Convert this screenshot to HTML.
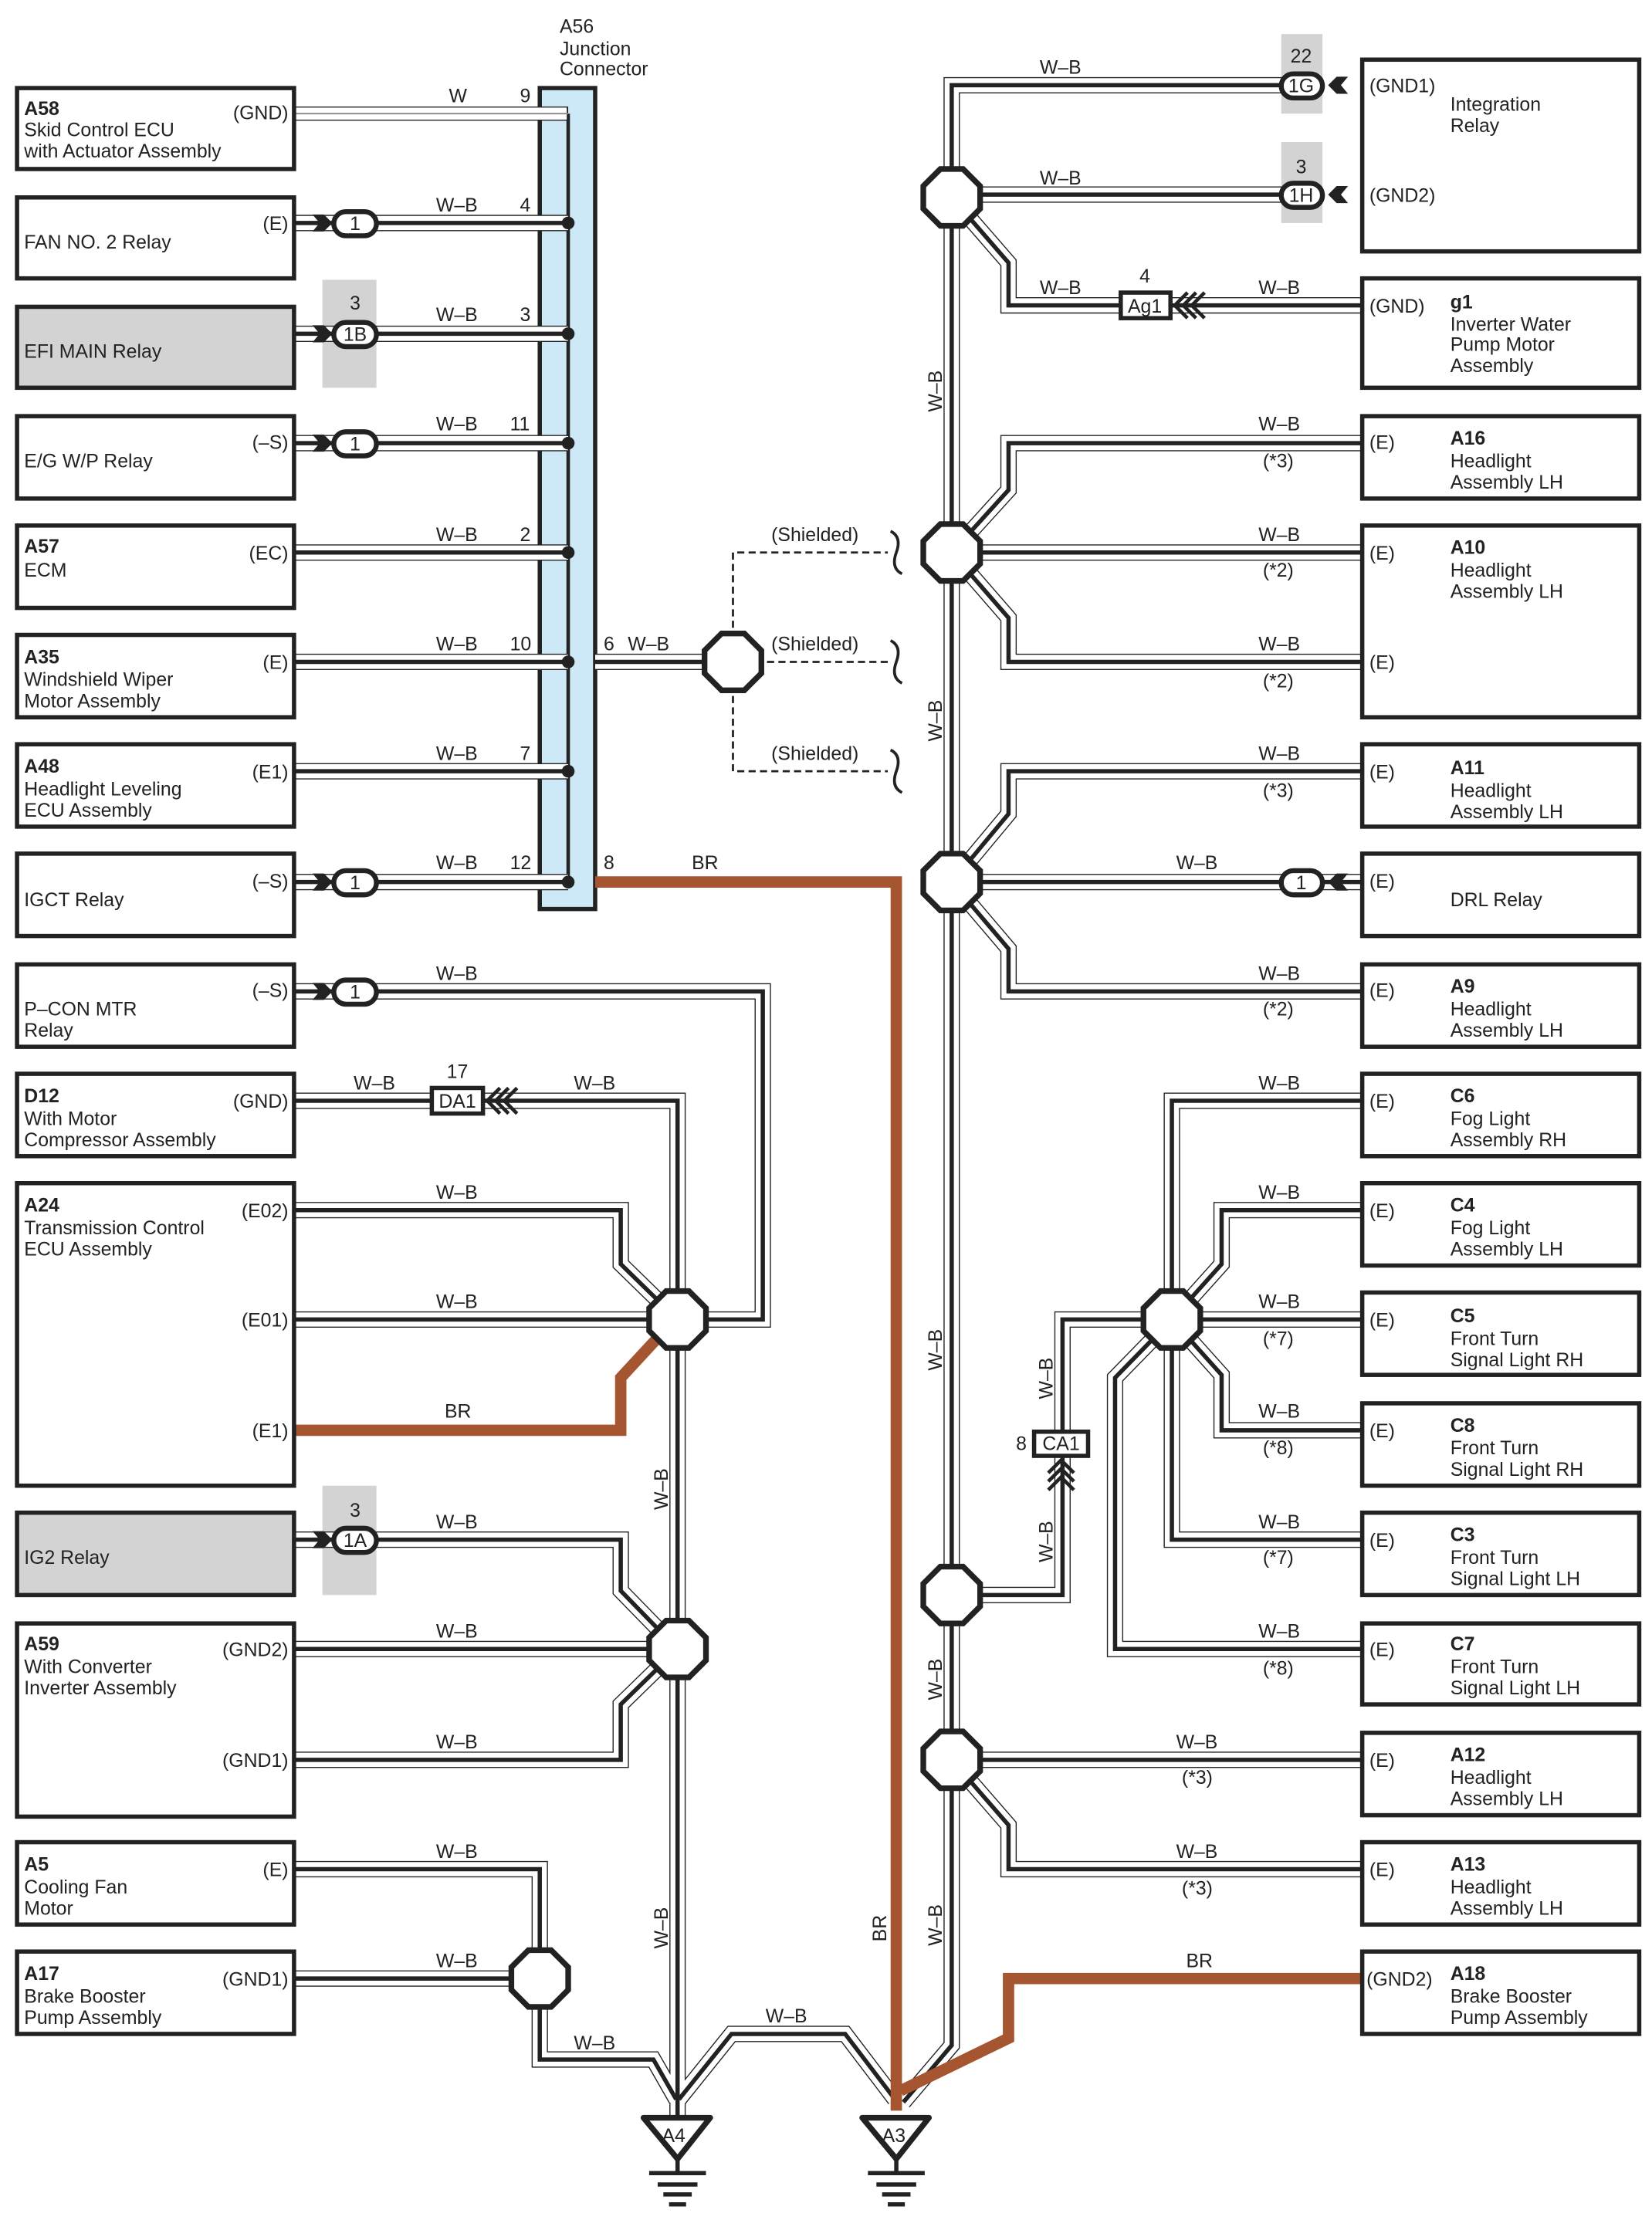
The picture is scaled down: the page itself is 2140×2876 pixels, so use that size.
<!DOCTYPE html>
<html><head><meta charset="utf-8"><style>
html,body{margin:0;padding:0;background:#fff}
svg{display:block}
text{font-family:"Liberation Sans",sans-serif;font-size:13.5px;fill:#222}
.b{font-weight:bold}
.box{fill:#fff;stroke:#222;stroke-width:3}
.oct{fill:#fff;stroke:#222;stroke-width:4}
</style></head><body>
<svg width="2140" height="2876" viewBox="0 0 1163 1563" preserveAspectRatio="none" xmlns="http://www.w3.org/2000/svg">
<defs>
<g id="wires" fill="none" stroke-linejoin="miter">
<path d="M207,157H400M207,235H400M207,312H400M207,389H400M207,466H400M207,543H400M207,621H400M419,466H516"/>
<path d="M905,60H670V1440L636,1480"/>
<path d="M670,137H905"/>
<path d="M670,139L710,185V215H959"/>
<path d="M670,389L710,345V312H959M670,389H959M670,389L710,435V466H959"/>
<path d="M670,621L710,573V543H959M670,621H959M670,621L710,668V698H959"/>
<path d="M825,929V775H959M825,929L860,890V852H959M825,929H959M825,929L860,968V1007H959M825,929V1084H959M825,929L785,970V1161H959"/>
<path d="M670,1123H748V929H825"/>
<path d="M670,1239H959M670,1239L710,1285V1316H959"/>
<path d="M207,698H537V929H477M207,775H477V929M207,852H437V890L477,929M207,929H477"/>
<path d="M207,1084H437V1120L477,1161M207,1161H477M207,1239H437V1200L477,1161M477,929V1490"/>
<path d="M207,1316H380V1393M207,1393H380V1450H460L476,1478"/>
<path d="M478,1478L515,1432H595L630,1478"/>
</g>
</defs>
<rect width="1163" height="1563" fill="#fff"/>
<!-- gray backgrounds -->
<rect x="227" y="197" width="38" height="76" fill="#d3d3d3"/>
<rect x="227" y="1046" width="38" height="77" fill="#d3d3d3"/>
<rect x="902" y="24" width="29" height="56" fill="#d3d3d3"/>
<rect x="902" y="100" width="29" height="57" fill="#d3d3d3"/>
<!-- junction connector -->
<rect x="380" y="62" width="39" height="578" fill="#cde9f7" stroke="#222" stroke-width="3"/>
<path d="M400,80V621" stroke="#222" stroke-width="2.5"/>
<!-- W wire -->
<path d="M207,80H400" stroke="#222" stroke-width="10" fill="none"/>
<path d="M207,80H399" stroke="#fff" stroke-width="8.5" fill="none"/>
<path d="M207,80H400" stroke="#888" stroke-width="1" fill="none"/>
<!-- double wires -->
<use href="#wires" stroke="#222" stroke-width="11.5"/>
<use href="#wires" stroke="#fff" stroke-width="10"/>
<use href="#wires" stroke="#222" stroke-width="3"/>
<!-- BR wires -->
<g fill="none" stroke="#a55530" stroke-width="8">
<path d="M419,621H631V1486"/>
<path d="M207,1007H437V970L462,943"/>
<path d="M959,1393H710V1435L634,1472"/>
</g>
<!-- dots on connector -->
<g fill="#222"><circle cx="400" cy="157" r="4.5"/><circle cx="400" cy="235" r="4.5"/><circle cx="400" cy="312" r="4.5"/><circle cx="400" cy="389" r="4.5"/><circle cx="400" cy="466" r="4.5"/><circle cx="400" cy="543" r="4.5"/><circle cx="400" cy="621" r="4.5"/></g>
<!-- shielded -->
<g fill="none" stroke="#222" stroke-width="1.5" stroke-dasharray="5,3">
<path d="M516,466V389H625M516,466H625M516,466V543H625"/>
</g>
<g fill="none" stroke="#222" stroke-width="2">
<path d="M627,374q8,4 4,15q-4,11 4,15M627,451q8,4 4,15q-4,11 4,15M627,528q8,4 4,15q-4,11 4,15"/>
</g>
<!-- octagons -->
<g class="oct">
<polygon points="662,119 678,119 690,131 690,147 678,159 662,159 650,147 650,131"/>
<polygon points="662,369 678,369 690,381 690,397 678,409 662,409 650,397 650,381"/>
<polygon points="662,601 678,601 690,613 690,629 678,641 662,641 650,629 650,613"/>
<polygon points="662,1103 678,1103 690,1115 690,1131 678,1143 662,1143 650,1131 650,1115"/>
<polygon points="662,1219 678,1219 690,1231 690,1247 678,1259 662,1259 650,1247 650,1231"/>
<polygon points="817,909 833,909 845,921 845,937 833,949 817,949 805,937 805,921"/>
<polygon points="469,909 485,909 497,921 497,937 485,949 469,949 457,937 457,921"/>
<polygon points="469,1141 485,1141 497,1153 497,1169 485,1181 469,1181 457,1169 457,1153"/>
<polygon points="372,1373 388,1373 400,1385 400,1401 388,1413 372,1413 360,1401 360,1385"/>
<polygon points="508,446 524,446 536,458 536,474 524,486 508,486 496,474 496,458"/>
</g>
<!-- pill connectors -->
<g fill="#fff" stroke="#222" stroke-width="3.5">
<rect x="235" y="149" width="30" height="17" rx="8.5"/>
<rect x="235" y="227" width="30" height="17" rx="8.5"/>
<rect x="235" y="304" width="30" height="17" rx="8.5"/>
<rect x="235" y="613" width="30" height="17" rx="8.5"/>
<rect x="235" y="690" width="30" height="17" rx="8.5"/>
<rect x="235" y="1076" width="30" height="17" rx="8.5"/>
<rect x="902" y="52" width="29" height="17" rx="8.5"/>
<rect x="902" y="129" width="29" height="17" rx="8.5"/>
<rect x="902" y="613" width="29" height="17" rx="8.5"/>
</g>
<g fill="#222">
<path d="M220,151l8,0l6,6l-6,6l-8,0l5,-6z"/>
<path d="M220,229l8,0l6,6l-6,6l-8,0l5,-6z"/>
<path d="M220,306l8,0l6,6l-6,6l-8,0l5,-6z"/>
<path d="M220,615l8,0l6,6l-6,6l-8,0l5,-6z"/>
<path d="M220,692l8,0l6,6l-6,6l-8,0l5,-6z"/>
<path d="M220,1078l8,0l6,6l-6,6l-8,0l5,-6z"/>
<path d="M949,54l-8,0l-6,6l6,6l8,0l-5,-6z"/>
<path d="M949,131l-8,0l-6,6l6,6l8,0l-5,-6z"/>
<path d="M949,615l-8,0l-6,6l6,6l8,0l-5,-6z"/>
</g>
<!-- rect connectors -->
<g fill="#fff" stroke="#222" stroke-width="3">
<rect x="789" y="206" width="35" height="18"/>
<rect x="304" y="766" width="36" height="18"/>
<rect x="728" y="1008" width="38" height="17"/>
</g>
<g fill="none" stroke="#222" stroke-width="2.5">
<path d="M836,206l-9,9l9,9M842,206l-9,9l9,9M848,206l-9,9l9,9"/>
<path d="M352,766l-9,9l9,9M358,766l-9,9l9,9M364,766l-9,9l9,9"/>
<path d="M738,1037l9,-9l9,9M738,1043l9,-9l9,9M738,1049l9,-9l9,9"/>
</g>
<!-- grounds -->
<g fill="#fff" stroke="#222" stroke-width="4" stroke-linejoin="round">
<polygon points="453,1491 500,1491 477,1520"/>
<polygon points="607,1491 654,1491 631,1520"/>
</g>
<g stroke="#222" stroke-width="3">
<path d="M477,1520V1530M457,1530H497M463,1538H491M467,1545H487M471,1552H483"/>
<path d="M631,1520V1530M611,1530H651M617,1538H645M621,1545H641M625,1552H637"/>
</g>
<text x="466" y="1508">A4</text><text x="621" y="1508">A3</text>
<!-- boxes left -->
<g class="box">
<rect x="12" y="62" width="195" height="57"/>
<rect x="12" y="139" width="195" height="57"/>
<rect x="12" y="216" width="195" height="57" style="fill:#d3d3d3"/>
<rect x="12" y="293" width="195" height="58"/>
<rect x="12" y="370" width="195" height="58"/>
<rect x="12" y="447" width="195" height="58"/>
<rect x="12" y="524" width="195" height="58"/>
<rect x="12" y="601" width="195" height="58"/>
<rect x="12" y="679" width="195" height="58"/>
<rect x="12" y="756" width="195" height="58"/>
<rect x="12" y="833" width="195" height="213"/>
<rect x="12" y="1065" width="195" height="58" style="fill:#d3d3d3"/>
<rect x="12" y="1143" width="195" height="136"/>
<rect x="12" y="1297" width="195" height="58"/>
<rect x="12" y="1374" width="195" height="58"/>
<!-- right -->
<rect x="959" y="42" width="195" height="135"/>
<rect x="959" y="196" width="195" height="77"/>
<rect x="959" y="293" width="195" height="58"/>
<rect x="959" y="370" width="195" height="135"/>
<rect x="959" y="524" width="195" height="58"/>
<rect x="959" y="601" width="195" height="58"/>
<rect x="959" y="679" width="195" height="58"/>
<rect x="959" y="756" width="195" height="58"/>
<rect x="959" y="833" width="195" height="58"/>
<rect x="959" y="910" width="195" height="58"/>
<rect x="959" y="988" width="195" height="58"/>
<rect x="959" y="1065" width="195" height="58"/>
<rect x="959" y="1143" width="195" height="57"/>
<rect x="959" y="1220" width="195" height="58"/>
<rect x="959" y="1297" width="195" height="58"/>
<rect x="959" y="1374" width="195" height="58"/>
</g>
<!-- left box texts -->
<text x="17" y="81" class="b">A58</text><text x="17" y="96">Skid Control ECU</text><text x="17" y="111">with Actuator Assembly</text><text x="203" y="84" text-anchor="end">(GND)</text>
<text x="17" y="175">FAN NO. 2 Relay</text><text x="203" y="162" text-anchor="end">(E)</text>
<text x="17" y="252">EFI MAIN Relay</text>
<text x="17" y="329">E/G W/P Relay</text><text x="203" y="316" text-anchor="end">(–S)</text>
<text x="17" y="389" class="b">A57</text><text x="17" y="406">ECM</text><text x="203" y="394" text-anchor="end">(EC)</text>
<text x="17" y="467" class="b">A35</text><text x="17" y="483">Windshield Wiper</text><text x="17" y="498">Motor Assembly</text><text x="203" y="471" text-anchor="end">(E)</text>
<text x="17" y="544" class="b">A48</text><text x="17" y="560">Headlight Leveling</text><text x="17" y="575">ECU Assembly</text><text x="203" y="548" text-anchor="end">(E1)</text>
<text x="17" y="638">IGCT Relay</text><text x="203" y="625" text-anchor="end">(–S)</text>
<text x="17" y="715">P–CON MTR</text><text x="17" y="730">Relay</text><text x="203" y="702" text-anchor="end">(–S)</text>
<text x="17" y="776" class="b">D12</text><text x="17" y="792">With Motor</text><text x="17" y="807">Compressor Assembly</text><text x="203" y="780" text-anchor="end">(GND)</text>
<text x="17" y="853" class="b">A24</text><text x="17" y="869">Transmission Control</text><text x="17" y="884">ECU Assembly</text><text x="203" y="857" text-anchor="end">(E02)</text><text x="203" y="934" text-anchor="end">(E01)</text><text x="203" y="1012" text-anchor="end">(E1)</text>
<text x="17" y="1101">IG2 Relay</text>
<text x="17" y="1162" class="b">A59</text><text x="17" y="1178">With Converter</text><text x="17" y="1193">Inverter Assembly</text><text x="203" y="1166" text-anchor="end">(GND2)</text><text x="203" y="1244" text-anchor="end">(GND1)</text>
<text x="17" y="1317" class="b">A5</text><text x="17" y="1333">Cooling Fan</text><text x="17" y="1348">Motor</text><text x="203" y="1321" text-anchor="end">(E)</text>
<text x="17" y="1394" class="b">A17</text><text x="17" y="1410">Brake Booster</text><text x="17" y="1425">Pump Assembly</text><text x="203" y="1398" text-anchor="end">(GND1)</text>
<!-- connector texts -->
<text x="250" y="162" text-anchor="middle">1</text><text x="250" y="240" text-anchor="middle">1B</text><text x="250" y="218" text-anchor="middle">3</text>
<text x="250" y="317" text-anchor="middle">1</text><text x="250" y="626" text-anchor="middle">1</text><text x="250" y="703" text-anchor="middle">1</text>
<text x="250" y="1089" text-anchor="middle">1A</text><text x="250" y="1068" text-anchor="middle">3</text>
<text x="916" y="65" text-anchor="middle">1G</text><text x="916" y="44" text-anchor="middle">22</text>
<text x="916" y="142" text-anchor="middle">1H</text><text x="916" y="122" text-anchor="middle">3</text>
<text x="916" y="626" text-anchor="middle">1</text>
<text x="806" y="220" text-anchor="middle">Ag1</text><text x="806" y="199" text-anchor="middle">4</text>
<text x="322" y="780" text-anchor="middle">DA1</text><text x="322" y="759" text-anchor="middle">17</text>
<text x="747" y="1021" text-anchor="middle">CA1</text><text x="719" y="1021" text-anchor="middle">8</text>
<text x="394" y="23">A56</text><text x="394" y="39">Junction</text><text x="394" y="53">Connector</text>
<!-- left wire labels -->
<text x="316" y="72">W</text><text x="366" y="72">9</text>
<g>
<text x="307" y="149">W–B</text><text x="366" y="149">4</text>
<text x="307" y="226">W–B</text><text x="366" y="226">3</text>
<text x="307" y="303">W–B</text><text x="359" y="303">11</text>
<text x="307" y="381">W–B</text><text x="366" y="381">2</text>
<text x="307" y="458">W–B</text><text x="359" y="458">10</text>
<text x="307" y="535">W–B</text><text x="366" y="535">7</text>
<text x="307" y="612">W–B</text><text x="359" y="612">12</text>
<text x="425" y="458">6</text><text x="442" y="458">W–B</text>
<text x="425" y="612">8</text><text x="487" y="612">BR</text>
<text x="307" y="690">W–B</text>
<text x="249" y="767">W–B</text><text x="404" y="767">W–B</text>
<text x="307" y="844">W–B</text><text x="307" y="921">W–B</text><text x="313" y="998">BR</text>
<text x="307" y="1076">W–B</text><text x="307" y="1153">W–B</text><text x="307" y="1231">W–B</text>
<text x="307" y="1308">W–B</text><text x="307" y="1385">W–B</text>
<text x="404" y="1443">W–B</text><text x="539" y="1424">W–B</text>
<text x="543" y="381">(Shielded)</text><text x="543" y="458">(Shielded)</text><text x="543" y="535">(Shielded)</text>
</g>
<!-- vertical labels -->
<text transform="translate(663,290) rotate(-90)">W–B</text>
<text transform="translate(663,522) rotate(-90)">W–B</text>
<text transform="translate(663,965) rotate(-90)">W–B</text>
<text transform="translate(663,1197) rotate(-90)">W–B</text>
<text transform="translate(663,1370) rotate(-90)">W–B</text>
<text transform="translate(624,1367) rotate(-90)">BR</text>
<text transform="translate(470,1063) rotate(-90)">W–B</text>
<text transform="translate(470,1372) rotate(-90)">W–B</text>
<text transform="translate(741,985) rotate(-90)">W–B</text>
<text transform="translate(741,1100) rotate(-90)">W–B</text>
<!-- right wire labels -->
<text x="732" y="52">W–B</text><text x="732" y="130">W–B</text>
<text x="732" y="207">W–B</text><text x="886" y="207">W–B</text>
<text x="886" y="303">W–B</text><text x="889" y="329">(*3)</text>
<text x="886" y="381">W–B</text><text x="889" y="406">(*2)</text>
<text x="886" y="458">W–B</text><text x="889" y="484">(*2)</text>
<text x="886" y="535">W–B</text><text x="889" y="561">(*3)</text>
<text x="828" y="612">W–B</text>
<text x="886" y="690">W–B</text><text x="889" y="715">(*2)</text>
<text x="886" y="767">W–B</text>
<text x="886" y="844">W–B</text>
<text x="886" y="921">W–B</text><text x="889" y="947">(*7)</text>
<text x="886" y="998">W–B</text><text x="889" y="1024">(*8)</text>
<text x="886" y="1076">W–B</text><text x="889" y="1101">(*7)</text>
<text x="886" y="1153">W–B</text><text x="889" y="1179">(*8)</text>
<text x="828" y="1231">W–B</text><text x="832" y="1256">(*3)</text>
<text x="828" y="1308">W–B</text><text x="832" y="1334">(*3)</text>
<text x="835" y="1385">BR</text>
<!-- right box texts -->
<text x="964" y="65">(GND1)</text><text x="1021" y="78">Integration</text><text x="1021" y="93">Relay</text>
<text x="964" y="142">(GND2)</text>
<text x="964" y="220">(GND)</text><text x="1021" y="217" class="b">g1</text><text x="1021" y="233">Inverter Water</text><text x="1021" y="247">Pump Motor</text><text x="1021" y="262">Assembly</text>
<text x="964" y="316">(E)</text><text x="1021" y="313" class="b">A16</text><text x="1021" y="329">Headlight</text><text x="1021" y="344">Assembly LH</text>
<text x="964" y="394">(E)</text><text x="1021" y="390" class="b">A10</text><text x="1021" y="406">Headlight</text><text x="1021" y="421">Assembly LH</text>
<text x="964" y="471">(E)</text>
<text x="964" y="548">(E)</text><text x="1021" y="545" class="b">A11</text><text x="1021" y="561">Headlight</text><text x="1021" y="576">Assembly LH</text>
<text x="964" y="625">(E)</text><text x="1021" y="638">DRL Relay</text>
<text x="964" y="702">(E)</text><text x="1021" y="699" class="b">A9</text><text x="1021" y="715">Headlight</text><text x="1021" y="730">Assembly LH</text>
<text x="964" y="780">(E)</text><text x="1021" y="776" class="b">C6</text><text x="1021" y="792">Fog Light</text><text x="1021" y="807">Assembly RH</text>
<text x="964" y="857">(E)</text><text x="1021" y="853" class="b">C4</text><text x="1021" y="869">Fog Light</text><text x="1021" y="884">Assembly LH</text>
<text x="964" y="934">(E)</text><text x="1021" y="931" class="b">C5</text><text x="1021" y="947">Front Turn</text><text x="1021" y="962">Signal Light RH</text>
<text x="964" y="1012">(E)</text><text x="1021" y="1008" class="b">C8</text><text x="1021" y="1024">Front Turn</text><text x="1021" y="1039">Signal Light RH</text>
<text x="964" y="1089">(E)</text><text x="1021" y="1085" class="b">C3</text><text x="1021" y="1101">Front Turn</text><text x="1021" y="1116">Signal Light LH</text>
<text x="964" y="1166">(E)</text><text x="1021" y="1162" class="b">C7</text><text x="1021" y="1178">Front Turn</text><text x="1021" y="1193">Signal Light LH</text>
<text x="964" y="1244">(E)</text><text x="1021" y="1240" class="b">A12</text><text x="1021" y="1256">Headlight</text><text x="1021" y="1271">Assembly LH</text>
<text x="964" y="1321">(E)</text><text x="1021" y="1317" class="b">A13</text><text x="1021" y="1333">Headlight</text><text x="1021" y="1348">Assembly LH</text>
<text x="962" y="1398">(GND2)</text><text x="1021" y="1394" class="b">A18</text><text x="1021" y="1410">Brake Booster</text><text x="1021" y="1425">Pump Assembly</text>
</svg>
</body></html>
